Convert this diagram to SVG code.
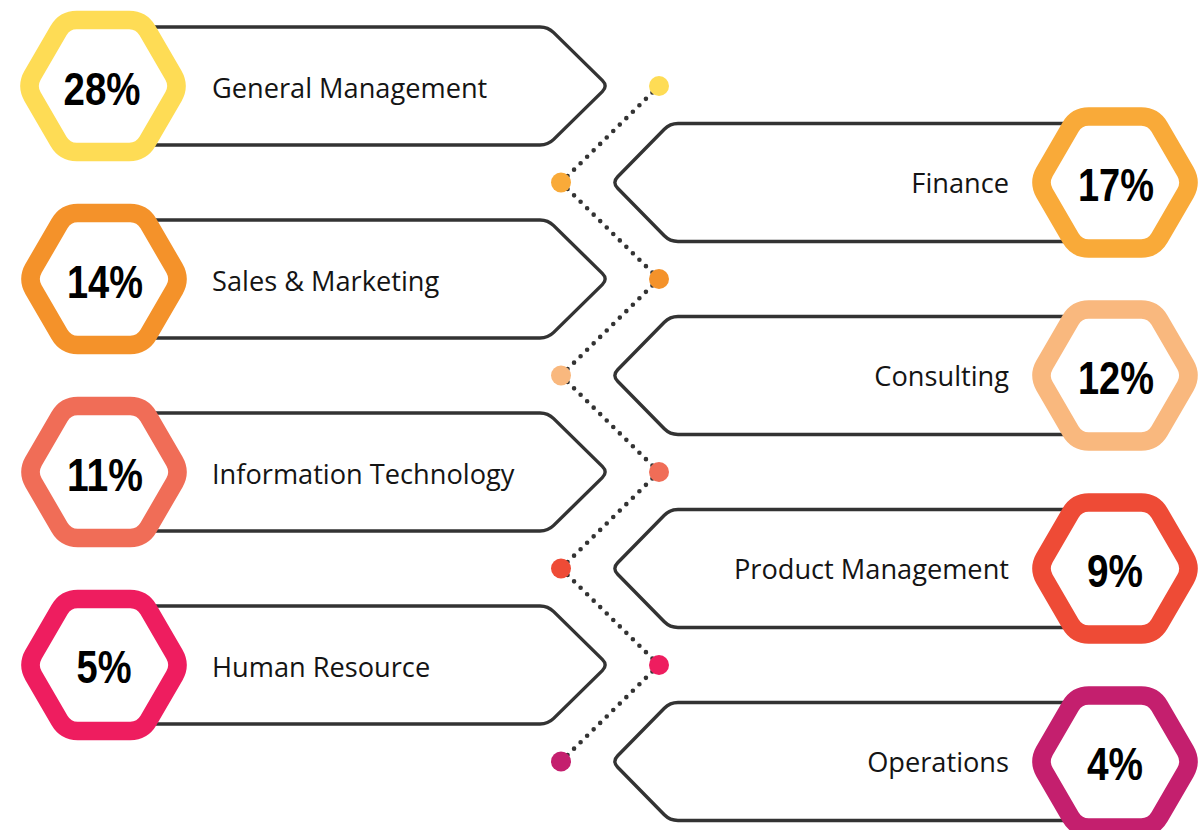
<svg xmlns="http://www.w3.org/2000/svg" xmlns:xlink="http://www.w3.org/1999/xlink" width="1204" height="830" viewBox="0 0 1204 830">
<style>
.banner{fill:#fff;stroke:#333;stroke-width:3.4}
.hex{fill:#fff;stroke-width:18.5}
.lbl{font-family:"Open Sans","Liberation Sans",sans-serif;font-size:27.2px;fill:#141414}
.pct{font-family:"Liberation Sans",Arial,sans-serif;font-weight:bold;font-size:46px;fill:#000;text-anchor:middle}
.dotline{stroke:#333;stroke-width:4.6;stroke-linecap:round;stroke-dasharray:0 9.17;fill:none}
</style>
<defs>
<path id="hx" d="M-70.5,-10.6 L-44.5,-55.4 Q-38.3,-66 -26.3,-66 L26.3,-66 Q38.3,-66 44.5,-55.4 L70.5,-10.6 Q76.5,0 70.5,10.6 L44.5,55.4 Q38.3,66 26.3,66 L-26.3,66 Q-38.3,66 -44.5,55.4 L-70.5,10.6 Q-76.5,0 -70.5,-10.6 Z"/>
<path id="bl" d="M120,-59 H540 Q548,-59 553.7,-53.4 L602.3,-5.6 Q608,0 602.3,5.6 L553.7,53.4 Q548,59 540,59 H120"/>
<path id="br" d="M1100,-59 H678 Q670,-59 664.3,-53.3 L617.7,-5.7 Q612,0 617.7,5.7 L664.3,53.3 Q670,59 678,59 H1100"/>
</defs>

<g id="connectors">
<line class="dotline" x1="659" y1="86" x2="561" y2="182.5"/>
<line class="dotline" x1="561" y1="182.5" x2="659" y2="279"/>
<line class="dotline" x1="659" y1="279" x2="561" y2="375.5"/>
<line class="dotline" x1="561" y1="375.5" x2="659" y2="472"/>
<line class="dotline" x1="659" y1="472" x2="561" y2="568.5"/>
<line class="dotline" x1="561" y1="568.5" x2="659" y2="665"/>
<line class="dotline" x1="659" y1="665" x2="561" y2="761.5"/>
</g>

<g id="dots">
<circle cx="659" cy="86" r="10" fill="#FEDC55"/>
<circle cx="561" cy="182.5" r="10" fill="#F9AA39"/>
<circle cx="659" cy="279" r="10" fill="#F4922A"/>
<circle cx="561" cy="375.5" r="10" fill="#F9B87E"/>
<circle cx="659" cy="472" r="10" fill="#F06D57"/>
<circle cx="561" cy="568.5" r="10" fill="#EE4B36"/>
<circle cx="659" cy="665" r="10" fill="#EE1D5F"/>
<circle cx="561" cy="761.5" r="10" fill="#C41F6E"/>
</g>

<g id="node-general-management">
<use xlink:href="#bl" class="banner" transform="translate(0,86)"/>
<use xlink:href="#hx" class="hex" stroke="#FEDC55" transform="translate(103,86)"/>
<text class="pct" x="102" y="105" textLength="77" lengthAdjust="spacingAndGlyphs">28%</text>
<text class="lbl" x="212" y="98">General Management</text>
</g>

<g id="node-finance">
<use xlink:href="#br" class="banner" transform="translate(0,182.5)"/>
<use xlink:href="#hx" class="hex" stroke="#F9AA39" transform="translate(1115,182.5)"/>
<text class="pct" x="1116" y="200.5" textLength="76" lengthAdjust="spacingAndGlyphs">17%</text>
<text class="lbl" x="1009" y="193" text-anchor="end">Finance</text>
</g>

<g id="node-sales-marketing">
<use xlink:href="#bl" class="banner" transform="translate(0,279)"/>
<use xlink:href="#hx" class="hex" stroke="#F4922A" transform="translate(104,279)"/>
<text class="pct" x="105" y="298" textLength="76" lengthAdjust="spacingAndGlyphs">14%</text>
<text class="lbl" x="212" y="291">Sales &amp; Marketing</text>
</g>

<g id="node-consulting">
<use xlink:href="#br" class="banner" transform="translate(0,375.5)"/>
<use xlink:href="#hx" class="hex" stroke="#F9B87E" transform="translate(1115,375.5)"/>
<text class="pct" x="1116" y="393.5" textLength="76" lengthAdjust="spacingAndGlyphs">12%</text>
<text class="lbl" x="1009" y="386" text-anchor="end">Consulting</text>
</g>

<g id="node-information-technology">
<use xlink:href="#bl" class="banner" transform="translate(0,472)"/>
<use xlink:href="#hx" class="hex" stroke="#F06D57" transform="translate(104,472)"/>
<text class="pct" x="105" y="491" textLength="76" lengthAdjust="spacingAndGlyphs">11%</text>
<text class="lbl" x="212" y="484">Information Technology</text>
</g>

<g id="node-product-management">
<use xlink:href="#br" class="banner" transform="translate(0,568.5)"/>
<use xlink:href="#hx" class="hex" stroke="#EE4B36" transform="translate(1115,568.5)"/>
<text class="pct" x="1115" y="586.5" textLength="56" lengthAdjust="spacingAndGlyphs">9%</text>
<text class="lbl" x="1009" y="579" text-anchor="end">Product Management</text>
</g>

<g id="node-human-resource">
<use xlink:href="#bl" class="banner" transform="translate(0,665)"/>
<use xlink:href="#hx" class="hex" stroke="#EE1D5F" transform="translate(104,665)"/>
<text class="pct" x="104" y="683" textLength="55" lengthAdjust="spacingAndGlyphs">5%</text>
<text class="lbl" x="212" y="677">Human Resource</text>
</g>

<g id="node-operations">
<use xlink:href="#br" class="banner" transform="translate(0,761.5)"/>
<use xlink:href="#hx" class="hex" stroke="#C41F6E" transform="translate(1115,761.5)"/>
<text class="pct" x="1115" y="779.5" textLength="56" lengthAdjust="spacingAndGlyphs">4%</text>
<text class="lbl" x="1009" y="772" text-anchor="end">Operations</text>
</g>
</svg>
